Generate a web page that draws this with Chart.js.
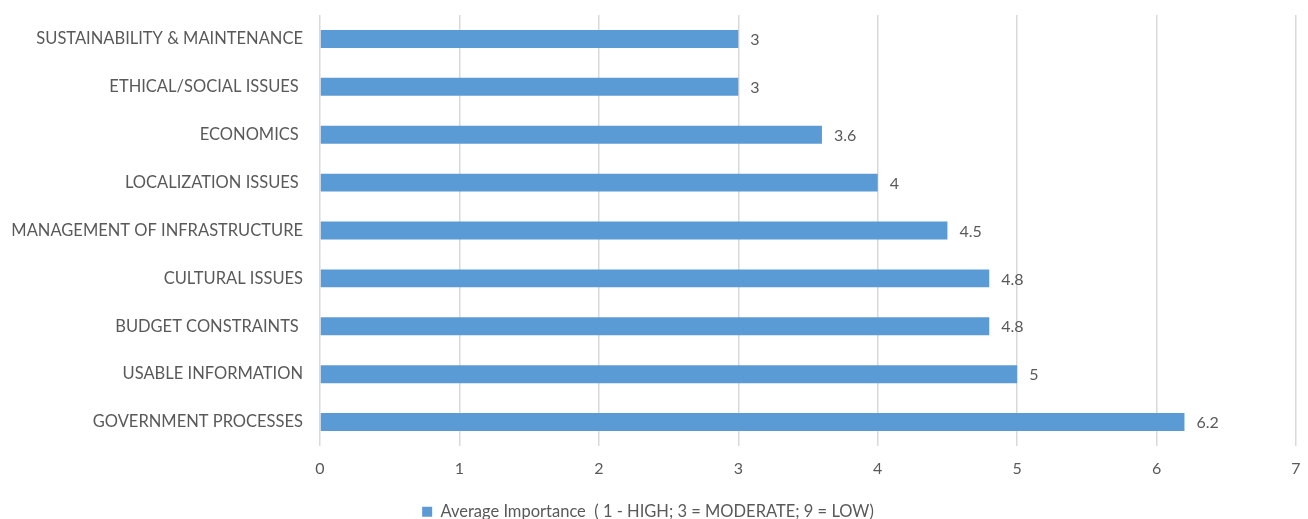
<!DOCTYPE html>
<html>
<head>
<meta charset="utf-8">
<script src="https://cdn.jsdelivr.net/npm/chart.js@4/dist/chart.umd.min.js"></script>
<style>
  body { margin: 0; background: #fff; }
  #wrap { width: 1308px; height: 519px; }
</style>
</head>
<body>
<div id="wrap"><canvas id="myChart"></canvas></div>
<script>
"use strict";

const categories = [
  "SUSTAINABILITY & MAINTENANCE",
  "ETHICAL/SOCIAL ISSUES ",
  "ECONOMICS ",
  "LOCALIZATION ISSUES ",
  "MANAGEMENT OF INFRASTRUCTURE",
  "CULTURAL ISSUES",
  "BUDGET CONSTRAINTS ",
  "USABLE INFORMATION",
  "GOVERNMENT PROCESSES",
];
const importance = [3, 3, 3.6, 4, 4.5, 4.8, 4.8, 5, 6.2];
const xTicks = [0, 1, 2, 3, 4, 5, 6, 7];
const seriesName = "Average Importance  ( 1 - HIGH; 3 = MODERATE; 9 = LOW)";

const textColor = "#595959";
const barColor = "#5B9BD5";

// draw the value next to the end of each bar
const valueLabels = {
  id: "valueLabels",
  afterDatasetsDraw(chart) {
    const ctx = chart.ctx;
    const meta = chart.getDatasetMeta(0);
    ctx.save();
    ctx.font = "16px Lato";
    ctx.fillStyle = textColor;
    ctx.textAlign = "left";
    ctx.textBaseline = "middle";
    meta.data.forEach((bar, i) => {
      ctx.fillText(String(importance[i]), bar.x + 12, bar.y + 1);
    });
    ctx.restore();
  },
};

const data = {
  labels: categories,
  datasets: [
    {
      label: seriesName,
      data: importance,
      backgroundColor: barColor,
      borderWidth: 0,
      barPercentage: 0.75,
      categoryPercentage: 0.5,
    },
  ],
};

const config = {
  type: "bar",
  data: data,
  plugins: [valueLabels],
  options: {
    indexAxis: "y",
    responsive: true,
    maintainAspectRatio: false,
    animation: false,
    layout: { padding: { left: 0, right: 12, top: 15, bottom: -11 } },
    scales: {
      x: {
        min: 0,
        max: 7,
        afterBuildTicks(scale) {
          scale.ticks = xTicks.map((v) => ({ value: v }));
        },
        afterFit(scale) {
          scale.height = 56.5;
          scale.paddingLeft = 0;
          scale.paddingRight = 0;
        },
        grid: { color: "#d9d9d9", lineWidth: 1.5, drawTicks: false },
        border: { display: false },
        ticks: { color: textColor, font: { family: "Lato", size: 16 }, padding: 13 },
      },
      y: {
        afterFit(scale) {
          scale.width = 320;
          scale.paddingTop = 0;
          scale.paddingBottom = 0;
        },
        grid: { display: false },
        border: { display: false },
        ticks: { color: textColor, font: { family: "Lato", size: 16.5 }, padding: 9, autoSkip: false },
      },
    },
    plugins: {
      legend: {
        position: "bottom",
        labels: {
          color: textColor,
          font: { family: "Lato", size: 16.5 },
          boxWidth: 10,
          boxHeight: 10,
          padding: 1,
        },
      },
      tooltip: { enabled: false },
    },
  },
};

new Chart(document.getElementById("myChart"), config);
</script>
</body>
</html>
